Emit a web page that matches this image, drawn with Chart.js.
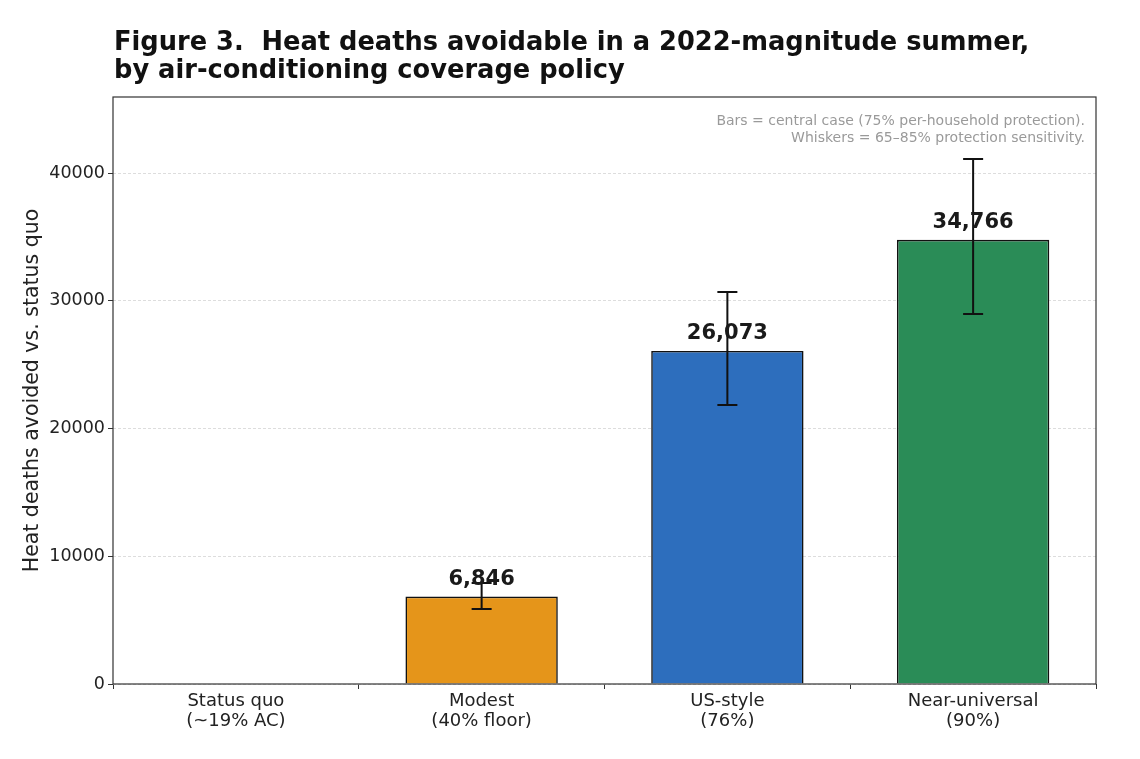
<!DOCTYPE html>
<html>
<head>
<meta charset="utf-8">
<script src="https://cdn.jsdelivr.net/npm/chart.js@4/dist/chart.umd.min.js"></script>
<style>
  body { margin: 0; background: #fff; }
  canvas { display: block; }
</style>
</head>
<body>
<canvas id="heat" width="1140" height="759"></canvas>
<script>
// policy scenarios (x axis)
const categories = [
    ['Status quo', '(~19% AC)'],
    ['Modest', '(40% floor)'],
    ['US-style', '(76%)'],
    ['Near-universal', '(90%)']
];
// central case, 75% per-household protection
const deathsAvoided = [0, 6846, 26073, 34766];
// whiskers: 65% and 85% protection
const lowSens = [0, 5870, 21840, 28960];
const highSens = [0, 7900, 30690, 41100];
const yTicks = [0, 10000, 20000, 30000, 40000];

const titleLines = [
    'Figure 3.  Heat deaths avoidable in a 2022-magnitude summer,',
    'by air-conditioning coverage policy'
];
const noteLines = [
    'Bars = central case (75% per-household protection).',
    'Whiskers = 65\u201385% protection sensitivity.'
];

const FONT = 'DejaVu Sans';

const overlay = {
    id: 'overlay',
    afterDatasetsDraw(chart) {
        const {ctx, chartArea: a, scales: {x, y}} = chart;
        ctx.save();
        // whiskers
        ctx.strokeStyle = '#111';
        ctx.lineWidth = 2;
        for (let i = 0; i < deathsAvoided.length; i++) {
            if (lowSens[i] === highSens[i]) continue;
            const px = x.getPixelForValue(i);
            const y1 = y.getPixelForValue(lowSens[i]);
            const y2 = y.getPixelForValue(highSens[i]);
            ctx.beginPath();
            ctx.moveTo(px, y1); ctx.lineTo(px, y2);
            ctx.moveTo(px - 10, y1); ctx.lineTo(px + 10, y1);
            ctx.moveTo(px - 10, y2); ctx.lineTo(px + 10, y2);
            ctx.stroke();
        }
        // value labels
        ctx.fillStyle = '#1a1a1a';
        ctx.font = 'bold 21px "' + FONT + '"';
        ctx.textAlign = 'center';
        ctx.textBaseline = 'alphabetic';
        deathsAvoided.forEach((v, i) => {
            if (!v) return;
            ctx.fillText(v.toLocaleString('en-US'), x.getPixelForValue(i), y.getPixelForValue(v) - 12);
        });
        // axes frame
        ctx.strokeStyle = '#333';
        ctx.lineWidth = 1.2;
        ctx.strokeRect(a.left, a.top, a.right - a.left, a.bottom - a.top);
        ctx.restore();
    },
    afterDraw(chart) {
        const ctx = chart.ctx;
        ctx.save();
        ctx.fillStyle = '#111';
        ctx.font = 'bold 25.7px "' + FONT + '"';
        ctx.textAlign = 'left';
        ctx.textBaseline = 'alphabetic';
        ctx.fillText(titleLines[0], 114, 50);
        ctx.fillText(titleLines[1], 114, 78);

        ctx.fillStyle = '#9a9a9a';
        ctx.font = '14px "' + FONT + '"';
        ctx.textAlign = 'right';
        ctx.fillText(noteLines[0], 1085, 125);
        ctx.fillText(noteLines[1], 1085, 142);
        ctx.restore();
    }
};

new Chart(document.getElementById('heat'), {
    type: 'bar',
    data: {
        labels: categories,
        datasets: [{
            data: deathsAvoided,
            backgroundColor: ['#e5951a', '#e5951a', '#2d6ebd', '#2a8c57'],
            borderColor: '#111',
            borderWidth: 1.6,
            barPercentage: 0.62,
            categoryPercentage: 1
        }]
    },
    options: {
        responsive: false,
        animation: false,
        layout: {padding: {left: 0, right: 44, top: 97, bottom: 0}},
        plugins: {legend: {display: false}, tooltip: {enabled: false}},
        scales: {
            x: {
                offset: true,
                grid: {drawOnChartArea: false, drawTicks: true, tickLength: 5, tickColor: '#333', tickWidth: 1},
                border: {display: false},
                ticks: {color: '#222', font: {family: FONT, size: 18, lineHeight: 1.12}, padding: 2, maxRotation: 0},
                afterFit(s) { s.height = 75; }
            },
            y: {
                min: 0,
                max: 45950,
                afterBuildTicks(s) { s.ticks = yTicks.map(v => ({value: v})); },
                grid: {color: '#d4d4d4', lineWidth: 0.8, tickLength: 5, tickColor: '#333', tickWidth: 1},
                border: {display: false, dash: [3, 2]},
                ticks: {color: '#222', font: {family: FONT, size: 17.5}, padding: 3, callback: v => String(v)},
                title: {
                    display: true,
                    text: 'Heat deaths avoided vs. status quo',
                    color: '#222',
                    font: {family: FONT, size: 20.5},
                    padding: {top: 20, bottom: 4}
                },
                afterFit(s) { s.width = 113; }
            }
        }
    },
    plugins: [overlay]
});
</script>
</body>
</html>
